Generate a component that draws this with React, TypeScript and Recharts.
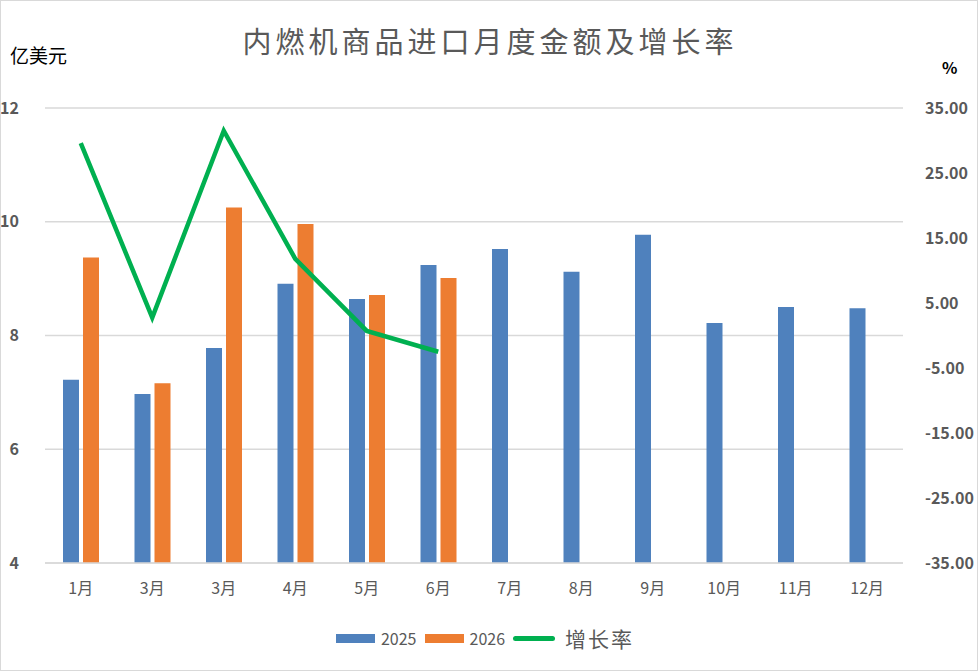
import React from "react";
import { ComposedChart, Bar, Line, XAxis, YAxis, CartesianGrid } from "recharts";

const months = ["1月", "3月", "3月", "4月", "5月", "6月", "7月", "8月", "9月", "10月", "11月", "12月"];
const amount2025 = [7.22, 6.97, 7.78, 8.91, 8.64, 9.24, 9.52, 9.12, 9.77, 8.22, 8.5, 8.48];
const amount2026 = [9.37, 7.16, 10.25, 9.96, 8.71, 9.01, null, null, null, null, null, null];
const growthRate = [29.6, 2.75, 31.5, 11.8, 0.7, -2.5, null, null, null, null, null, null];

const leftTicks = [4, 6, 8, 10, 12];
const rightTicks = [-35, -25, -15, -5, 5, 15, 25, 35];

const data = months.map((m, i) => ({
  month: m,
  y2025: amount2025[i],
  y2026: amount2026[i],
  rate: growthRate[i],
}));

const FONT = '"Noto Sans CJK SC", "Noto Sans", sans-serif';
const GREY = "#595959";

function LegendBox() {
  const item = { display: "flex", alignItems: "center", marginRight: 8 } as React.CSSProperties;
  return (
    <div style={{ display: "flex", justifyContent: "center", alignItems: "center", fontFamily: FONT, color: GREY }}>
      <div style={item}>
        <span style={{ width: 39, height: 9, background: "#4f81bd", marginRight: 6 }} />
        <span style={{ fontSize: 16 }}>2025</span>
      </div>
      <div style={item}>
        <span style={{ width: 39, height: 9, background: "#ed7d31", marginRight: 6 }} />
        <span style={{ fontSize: 16 }}>2026</span>
      </div>
      <div style={item}>
        <span style={{ width: 42, height: 5, borderRadius: 3, background: "#00b050", marginRight: 10 }} />
        <span style={{ fontSize: 21, letterSpacing: 2 }}>增长率</span>
      </div>
    </div>
  );
}

export default function App() {
  return (
    <div
      style={{
        position: "absolute",
        left: 0,
        top: 0,
        width: 978,
        height: 671,
        border: "1px solid #d9d9d9",
        boxSizing: "border-box",
        background: "#fff",
        fontFamily: FONT,
      }}
    >
      <div
        style={{
          position: "absolute",
          left: 0,
          top: 18,
          width: 978,
          textAlign: "center",
          fontSize: 29,
          letterSpacing: 4,
          color: GREY,
        }}
      >
        内燃机商品进口月度金额及增长率
      </div>
      <div style={{ position: "absolute", left: 9, top: 40, fontSize: 19, color: "#000" }}>亿美元</div>
      <div style={{ position: "absolute", left: 941, top: 54, fontSize: 16, fontWeight: 700, color: "#000" }}>%</div>
      <ComposedChart
        width={976}
        height={669}
        data={data}
        margin={{ top: 107, right: 0, left: 0, bottom: 67 }}
        barSize={16}
        barGap={4}
        style={{ position: "absolute", left: 0, top: 0 }}
      >
        <CartesianGrid horizontal vertical={false} stroke="#d9d9d9" strokeWidth={1.5} />
        <XAxis
          dataKey="month"
          tickLine={false}
          axisLine={{ stroke: "#d9d9d9", strokeWidth: 1.5 }}
          tick={{ fill: GREY, fontSize: 16, fontFamily: FONT }}
          tickMargin={14}
          interval={0}
          height={40}
        />
        <YAxis
          domain={[4, 12]}
          ticks={leftTicks}
          width={44}
          axisLine={false}
          tickLine={false}
          tickMargin={20}
          tick={{ fill: GREY, fontSize: 16, fontWeight: 700, fontFamily: FONT }}
        />
        <YAxis
          yAxisId="right"
          orientation="right"
          domain={[-35, 35]}
          ticks={rightTicks}
          width={74}
          axisLine={false}
          tickLine={false}
          tickMargin={16}
          tickFormatter={(v: number) => v.toFixed(2)}
          tick={{ fill: GREY, fontSize: 16, fontWeight: 700, fontFamily: FONT }}
        />
        <Bar dataKey="y2025" name="2025" fill="#4f81bd" isAnimationActive={false} />
        <Bar dataKey="y2026" name="2026" fill="#ed7d31" isAnimationActive={false} />
        <Line
          yAxisId="right"
          dataKey="rate"
          name="增长率"
          type="linear"
          stroke="#00b050"
          strokeWidth={4.5}
          dot={false}
          activeDot={false}
          connectNulls={false}
          isAnimationActive={false}
        />
      </ComposedChart>
      <div style={{ position: "absolute", left: 0, top: 622, width: 976 }}>
        <LegendBox />
      </div>
    </div>
  );
}
